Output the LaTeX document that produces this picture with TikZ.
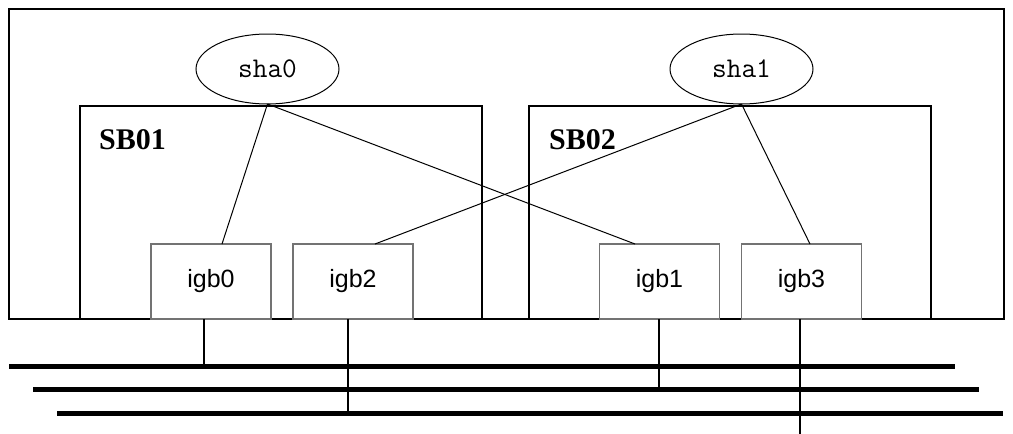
\documentclass[tikz,border=0pt]{standalone}
\usepackage{fontspec}
\setmainfont{Liberation Serif}
\newfontfamily\sansf{Liberation Sans}
\usetikzlibrary{shapes.geometric,calc}
\begin{document}
\begin{tikzpicture}[x=1pt,y=-1pt,
  frame/.style={draw=black,line width=1.3pt,rectangle,inner sep=0pt,outer sep=0pt},
  nic/.style={draw=black!55,line width=1.3pt,rectangle,inner sep=0pt,outer sep=0pt,
    minimum width=120pt,minimum height=75pt,font=\sansf\fontsize{25}{25}\selectfont},
  share/.style={draw=black,line width=1pt,ellipse,inner sep=0pt,outer sep=0pt,
    minimum width=143pt,minimum height=70pt,font=\ttfamily\fontsize{28.5}{28.5}\selectfont},
  sblabel/.style={anchor=base west,inner sep=0pt,font=\bfseries\fontsize{30}{30}\selectfont},
  link/.style={draw=black,line width=1pt},
  bus/.style={draw=black,line width=5pt},
  drop/.style={draw=black,line width=1.2pt}]
\useasboundingbox (0,0) rectangle (1013,434);
\fill[white] (0,0) rectangle (1013,434);
% frames
\node[frame,minimum width=995pt,minimum height=310pt] (outer) at (506.5,164) {};
\node[frame,minimum width=402pt,minimum height=213pt] (sb01) at (281,212.5) {};
\node[frame,minimum width=402pt,minimum height=213pt] (sb02) at (730,212.5) {};
\node[sblabel] (l1) at (99,149) {SB01};
\node[sblabel] (l2) at (549,149) {SB02};
% shares
\node[share] (sha0) at (267.5,69) {sha0};
\node[share] (sha1) at (741.5,69) {sha1};
% nics
\node[nic] (igb0) at (211,281.5) {igb0};
\node[nic] (igb2) at (353,281.5) {igb2};
\node[nic] (igb1) at (659.5,281.5) {igb1};
\node[nic] (igb3) at (801.5,281.5) {igb3};
% links
\draw[link] (sha0.south) -- ($(igb0.north)+(11,0)$);
\draw[link] (sha0.south) -- ($(igb1.north)+(-24.5,0)$);
\draw[link] (sha1.south) -- ($(igb2.north)+(22,0)$);
\draw[link] (sha1.south) -- ($(igb3.north)+(8.5,0)$);
% buses
\coordinate (b1l) at (9,366);  \coordinate (b1r) at (955,366);
\coordinate (b2l) at (33,389); \coordinate (b2r) at (979,389);
\coordinate (b3l) at (57,413); \coordinate (b3r) at (1003,413);
\coordinate (bend) at (0,434);
\draw[bus] (b1l) -- (b1r);
\draw[bus] (b2l) -- (b2r);
\draw[bus] (b3l) -- (b3r);
% drops
\draw[drop] ($(igb0.south)+(-7,0)$) coordinate (d0) -- (d0 |- b1l);
\draw[drop] ($(igb2.south)+(-5,0)$) coordinate (d2) -- (d2 |- b3l);
\draw[drop] ($(igb1.south)+(-0.5,0)$) coordinate (d1) -- (d1 |- b2l);
\draw[drop] ($(igb3.south)+(-1.5,0)$) coordinate (d3) -- (d3 |- bend);
\end{tikzpicture}
\end{document}
